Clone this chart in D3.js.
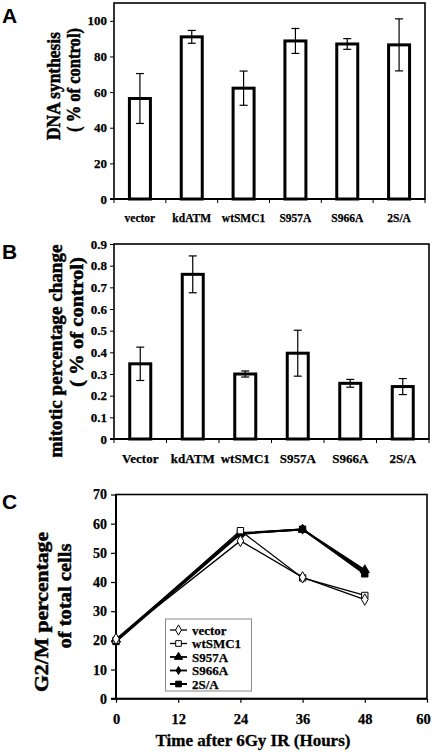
<!DOCTYPE html>
<html><head><meta charset="utf-8">
<script src="https://cdn.jsdelivr.net/npm/d3@7/dist/d3.min.js"></script>
<style>
html,body{margin:0;padding:0;background:#fff;}
svg text{font-family:"Liberation Serif","Times New Roman",serif;font-weight:bold;fill:#000;}
</style></head>
<body>
<svg id="chart" width="433" height="752"></svg>
<script>
// ---------- Data ----------
const categoriesA = ["vector","kdATM","wtSMC1","S957A","S966A","2S/A"];
const dnaSynthesis = [56.4, 91, 62.2, 88.7, 87, 86.5];
const dnaSynthesisErr = [14, 3.6, 9.6, 7, 3, 14.6];
const yTicksA = [0,20,40,60,80,100];

const categoriesB = ["Vector","kdATM","wtSMC1","S957A","S966A","2S/A"];
const mitoticChange = [0.347, 0.76, 0.30, 0.396, 0.257, 0.242];
const mitoticErr = [0.077, 0.085, 0.014, 0.106, 0.018, 0.037];
const yTicksB = [0,0.1,0.2,0.3,0.4,0.5,0.6,0.7,0.8,0.9];

const hours = [0, 24, 36, 48];
const seriesNames = ["vector","wtSMC1","S957A","S966A","2S/A"];
const vectorG2M = [20.5, 54.1, 41.6, 34.0];
const wtSMC1G2M = [20.0, 57.6, 41.4, 35.4];
const s957aG2M = [20.3, 56.8, 58.0, 44.1];
const s966aG2M = [20.0, 56.6, 58.0, 43.5];
const twoSAG2M = [19.6, 56.5, 58.1, 42.8];
const xTicksC = [0,12,24,36,48,60];
const yTicksC = [0,10,20,30,40,50,60,70];

// ---------- Drawing ----------
const svg = d3.select("#chart");
const SERIF = "'Liberation Serif','Times New Roman',serif";

function panelLabel(txt, x, y){
  svg.append("text").attr("x",x).attr("y",y).text(txt)
    .style("font-family","'Liberation Sans',Arial,sans-serif")
    .style("font-size","21px").style("font-weight","bold");
}

function rotTitle(txt, x, yc, len, size){
  svg.append("text")
    .attr("transform",`translate(${x},${yc}) rotate(-90)`)
    .attr("text-anchor","middle")
    .attr("textLength",len).attr("lengthAdjust","spacingAndGlyphs")
    .attr("stroke","#000").attr("stroke-width",0.5)
    .style("font-size",(size||19)+"px").style("font-weight","900").text(txt);
}

function styleAxis(ag, size){
  ag.attr("font-family",SERIF).attr("font-weight","bold").attr("font-size",size);
  ag.selectAll("text").style("font-size",size+"px").style("font-family",SERIF).style("font-weight","bold")
    .attr("stroke","#000").attr("stroke-width",0.25);
}

function barPanel(opts){
  const {cats, vals, errs, ticks, domain, left, right, top, bottom, fmt, tickFont, catFont, catY} = opts;
  const x = d3.scaleBand().domain(cats).range([left,right]).padding(0);
  const y = d3.scaleLinear().domain(domain).range([bottom,top]);
  const g = svg.append("g");
  g.append("rect").attr("x",left).attr("y",top).attr("width",right-left).attr("height",bottom-top)
    .attr("fill","none").attr("stroke","#000").attr("stroke-width",1.6);
  const ya = d3.axisLeft(y).tickValues(ticks).tickFormat(fmt).tickSize(4).tickPadding(3);
  const yg = g.append("g").attr("transform",`translate(${left},0)`).call(ya);
  yg.select(".domain").remove();
  yg.selectAll("line").attr("stroke","#000").attr("stroke-width",1);
  styleAxis(yg, tickFont);
  const bounds = cats.map(c=>x(c)).concat([right]);
  g.selectAll(".xt").data(bounds).join("line")
    .attr("x1",d=>d).attr("x2",d=>d).attr("y1",bottom).attr("y2",bottom+4)
    .attr("stroke","#000").attr("stroke-width",1);
  g.append("line").attr("x1",left-4).attr("x2",right).attr("y1",bottom).attr("y2",bottom)
    .attr("stroke","#000").attr("stroke-width",1.8);
  g.selectAll(".cl").data(cats).join("text")
    .attr("x",d=>x(d)+x.bandwidth()/2).attr("y",catY).attr("text-anchor","middle")
    .attr("stroke","#000").attr("stroke-width",0.25)
    .style("font-size",catFont+"px").text(d=>d);
  const bw = 21;
  g.selectAll(".bar").data(vals).join("rect")
    .attr("x",(d,i)=>x(cats[i])+x.bandwidth()/2-bw/2)
    .attr("y",d=>y(d)).attr("width",bw).attr("height",d=>y(0)-y(d))
    .attr("fill","#fff").attr("stroke","#000").attr("stroke-width",3);
  const cap = 4;
  vals.forEach((v,i)=>{
    const cx = x(cats[i])+x.bandwidth()/2;
    const hi = y(v+errs[i]), lo = y(v-errs[i]);
    g.append("line").attr("x1",cx).attr("x2",cx).attr("y1",hi).attr("y2",lo).attr("stroke","#000").attr("stroke-width",1.2);
    g.append("line").attr("x1",cx-cap).attr("x2",cx+cap).attr("y1",hi).attr("y2",hi).attr("stroke","#000").attr("stroke-width",1.2);
    g.append("line").attr("x1",cx-cap).attr("x2",cx+cap).attr("y1",lo).attr("y2",lo).attr("stroke","#000").attr("stroke-width",1.2);
  });
}

// Panel A
panelLabel("A", 2, 23);
barPanel({cats:categoriesA, vals:dnaSynthesis, errs:dnaSynthesisErr, ticks:yTicksA, domain:[0,110],
  left:114, right:425, top:3, bottom:199, fmt:d3.format("d"), tickFont:13, catFont:11.5, catY:222});
rotTitle("DNA synthesis", 60, 86, 108, 19);
rotTitle("( % of control)", 80, 80, 104, 18);

// Panel B
panelLabel("B", 2, 259);
barPanel({cats:categoriesB, vals:mitoticChange, errs:mitoticErr, ticks:yTicksB, domain:[0,0.9],
  left:114, right:429, top:244, bottom:439, fmt:d=>d===0?"0":d3.format(".1f")(d), tickFont:13, catFont:13, catY:463});
rotTitle("mitotic percentage change", 62, 351, 213, 19);
rotTitle("( % of control)", 83, 322, 130, 18);

// Panel C
panelLabel("C", 2, 509);
(function(){
  const left=116, right=427, top=494.5, bottom=698.7;
  const x = d3.scaleLinear().domain([0,60]).range([left,right]);
  const y = d3.scaleLinear().domain([0,70]).range([bottom,top]);
  const g = svg.append("g");
  g.append("rect").attr("x",left).attr("y",top).attr("width",right-left).attr("height",bottom-top)
    .attr("fill","none").attr("stroke","#000").attr("stroke-width",1.6);
  const ya = d3.axisLeft(y).tickValues(yTicksC).tickFormat(d3.format("d")).tickSize(5).tickPadding(4);
  const yg = g.append("g").attr("transform",`translate(${left},0)`).call(ya);
  yg.select(".domain").remove();
  yg.selectAll("line").attr("stroke","#000").attr("stroke-width",1.2);
  styleAxis(yg, 14);
  const xa = d3.axisBottom(x).tickValues(xTicksC).tickFormat(d3.format("d")).tickSize(4).tickPadding(11);
  const xg = g.append("g").attr("transform",`translate(0,${bottom})`).call(xa);
  xg.select(".domain").remove();
  xg.selectAll("line").attr("stroke","#000").attr("stroke-width",1.2);
  styleAxis(xg, 14.5);
  xg.selectAll("text").filter(d=>d===60).attr("dx",-4);
  g.append("line").attr("x1",left-5).attr("x2",right).attr("y1",bottom).attr("y2",bottom).attr("stroke","#000").attr("stroke-width",2);
  g.append("line").attr("x1",left).attr("x2",left).attr("y1",top).attr("y2",bottom).attr("stroke","#000").attr("stroke-width",2);

  svg.append("text").attr("x",253).attr("y",746).attr("text-anchor","middle").style("font-size","17px")
    .attr("stroke","#000").attr("stroke-width",0.3)
    .text("Time after 6Gy IR (Hours)");
  rotTitle("G2/M percentage", 48, 612, 160, 19);
  rotTitle("of total cells", 71, 596, 105, 19);

  const all = [vectorG2M, wtSMC1G2M, s957aG2M, s966aG2M, twoSAG2M];
  const widths = [1.3, 1.3, 1.8, 1.8, 2];
  const line = d3.line().x((d,i)=>x(hours[i])).y(d=>y(d));
  const symbols = [
    {type:d3.symbolDiamond, size:38, fill:"#fff"},
    {type:d3.symbolSquare, size:40, fill:"#fff"},
    {type:d3.symbolTriangle, size:36, fill:"#000"},
    {type:d3.symbolDiamond, size:24, fill:"#000"},
    {type:d3.symbolSquare, size:40, fill:"#000"}
  ];
  all.forEach((s,k)=>{
    g.append("path").datum(s).attr("d",line).attr("fill","none").attr("stroke","#000").attr("stroke-width",widths[k]);
  });
  [4,3,2,1,0].forEach(k=>{
    const s = all[k], sym = symbols[k];
    g.selectAll(null).data(s).join("path")
      .attr("transform",(d,i)=>`translate(${x(hours[i])},${y(d)})`)
      .attr("d",d3.symbol().type(sym.type).size(sym.size))
      .attr("fill",sym.fill).attr("stroke","#000").attr("stroke-width",1);
  });

  const lg = svg.append("g");
  lg.append("rect").attr("x",165.5).attr("y",619).attr("width",86).attr("height",72)
    .attr("fill","#fff").attr("stroke","#888").attr("stroke-width",1);
  const ly = d3.scalePoint().domain(seriesNames).range([630,684]);
  seriesNames.forEach((n,k)=>{
    const yy = ly(n), sym = symbols[k];
    lg.append("line").attr("x1",170).attr("x2",187).attr("y1",yy).attr("y2",yy).attr("stroke","#000").attr("stroke-width",widths[k]);
    lg.append("path").attr("transform",`translate(178.5,${yy})`)
      .attr("d",d3.symbol().type(sym.type).size(sym.size*0.8))
      .attr("fill",sym.fill).attr("stroke","#000").attr("stroke-width",1);
    lg.append("text").attr("x",192).attr("y",yy+4.5).attr("stroke","#000").attr("stroke-width",0.25)
      .style("font-size","13px").text(n);
  });
})();
</script>
</body></html>
